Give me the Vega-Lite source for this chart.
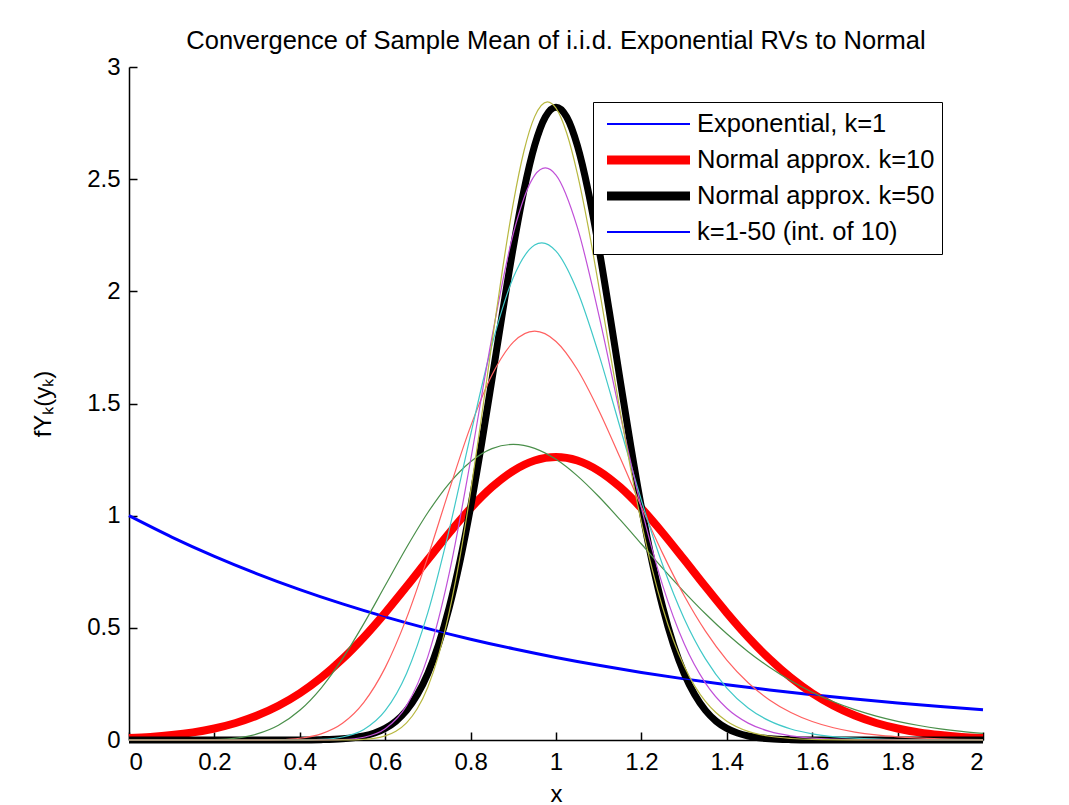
{
  "$schema": "https://vega.github.io/schema/vega-lite/v6.json",
  "width": 854,
  "height": 673,
  "autosize": {"type": "none"},
  "padding": {"left": 129, "top": 67, "right": 86, "bottom": 65},
  "background": "white",
  "config": {
    "font": "Liberation Sans",
    "view": {"stroke": null},
    "axis": {
      "grid": false,
      "domainColor": "black",
      "domainWidth": 1.5,
      "tickColor": "black",
      "tickWidth": 1.5,
      "tickSize": -8,
      "labelColor": "black",
      "labelFontSize": 24,
      "labelFont": "Liberation Sans",
      "titleFont": "Liberation Sans",
      "titleFontSize": 24,
      "titleFontWeight": "normal",
      "titleColor": "black"
    }
  },
  "title": {
    "text": "Convergence of Sample Mean of i.i.d. Exponential RVs to Normal",
    "fontSize": 25.5,
    "fontWeight": "normal",
    "font": "Liberation Sans",
    "color": "black",
    "anchor": "middle",
    "frame": "group",
    "offset": 1
  },
  "data": {
    "values": [
      {"series": "Exponential, k=1", "x": 0, "y": 1},
      {"series": "Exponential, k=1", "x": 0.1, "y": 0.9048},
      {"series": "Exponential, k=1", "x": 0.2, "y": 0.8187},
      {"series": "Exponential, k=1", "x": 0.3, "y": 0.7408},
      {"series": "Exponential, k=1", "x": 0.4, "y": 0.6703},
      {"series": "Exponential, k=1", "x": 0.5, "y": 0.6065},
      {"series": "Exponential, k=1", "x": 0.6, "y": 0.5488},
      {"series": "Exponential, k=1", "x": 0.7, "y": 0.4966},
      {"series": "Exponential, k=1", "x": 0.8, "y": 0.4493},
      {"series": "Exponential, k=1", "x": 0.9, "y": 0.4066},
      {"series": "Exponential, k=1", "x": 1.0, "y": 0.3679},
      {"series": "Exponential, k=1", "x": 1.1, "y": 0.3329},
      {"series": "Exponential, k=1", "x": 1.2, "y": 0.3012},
      {"series": "Exponential, k=1", "x": 1.3, "y": 0.2725},
      {"series": "Exponential, k=1", "x": 1.4, "y": 0.2466},
      {"series": "Exponential, k=1", "x": 1.5, "y": 0.2231},
      {"series": "Exponential, k=1", "x": 1.6, "y": 0.2019},
      {"series": "Exponential, k=1", "x": 1.7, "y": 0.1827},
      {"series": "Exponential, k=1", "x": 1.8, "y": 0.1653},
      {"series": "Exponential, k=1", "x": 1.9, "y": 0.1496},
      {"series": "Exponential, k=1", "x": 2.0, "y": 0.1353},

      {"series": "Normal approx. k=10", "x": 0, "y": 0.0085},
      {"series": "Normal approx. k=10", "x": 0.05, "y": 0.0138},
      {"series": "Normal approx. k=10", "x": 0.1, "y": 0.0220},
      {"series": "Normal approx. k=10", "x": 0.15, "y": 0.0340},
      {"series": "Normal approx. k=10", "x": 0.2, "y": 0.0514},
      {"series": "Normal approx. k=10", "x": 0.25, "y": 0.0758},
      {"series": "Normal approx. k=10", "x": 0.3, "y": 0.1089},
      {"series": "Normal approx. k=10", "x": 0.35, "y": 0.1526},
      {"series": "Normal approx. k=10", "x": 0.4, "y": 0.2085},
      {"series": "Normal approx. k=10", "x": 0.45, "y": 0.2780},
      {"series": "Normal approx. k=10", "x": 0.5, "y": 0.3614},
      {"series": "Normal approx. k=10", "x": 0.55, "y": 0.4583},
      {"series": "Normal approx. k=10", "x": 0.6, "y": 0.5669},
      {"series": "Normal approx. k=10", "x": 0.65, "y": 0.6838},
      {"series": "Normal approx. k=10", "x": 0.7, "y": 0.8044},
      {"series": "Normal approx. k=10", "x": 0.75, "y": 0.9230},
      {"series": "Normal approx. k=10", "x": 0.8, "y": 1.0329},
      {"series": "Normal approx. k=10", "x": 0.85, "y": 1.1273},
      {"series": "Normal approx. k=10", "x": 0.9, "y": 1.2000},
      {"series": "Normal approx. k=10", "x": 0.95, "y": 1.2459},
      {"series": "Normal approx. k=10", "x": 1.0, "y": 1.2616},
      {"series": "Normal approx. k=10", "x": 1.05, "y": 1.2459},
      {"series": "Normal approx. k=10", "x": 1.1, "y": 1.2000},
      {"series": "Normal approx. k=10", "x": 1.15, "y": 1.1273},
      {"series": "Normal approx. k=10", "x": 1.2, "y": 1.0329},
      {"series": "Normal approx. k=10", "x": 1.25, "y": 0.9230},
      {"series": "Normal approx. k=10", "x": 1.3, "y": 0.8044},
      {"series": "Normal approx. k=10", "x": 1.35, "y": 0.6838},
      {"series": "Normal approx. k=10", "x": 1.4, "y": 0.5669},
      {"series": "Normal approx. k=10", "x": 1.45, "y": 0.4583},
      {"series": "Normal approx. k=10", "x": 1.5, "y": 0.3614},
      {"series": "Normal approx. k=10", "x": 1.55, "y": 0.2780},
      {"series": "Normal approx. k=10", "x": 1.6, "y": 0.2085},
      {"series": "Normal approx. k=10", "x": 1.65, "y": 0.1526},
      {"series": "Normal approx. k=10", "x": 1.7, "y": 0.1089},
      {"series": "Normal approx. k=10", "x": 1.75, "y": 0.0758},
      {"series": "Normal approx. k=10", "x": 1.8, "y": 0.0514},
      {"series": "Normal approx. k=10", "x": 1.85, "y": 0.0340},
      {"series": "Normal approx. k=10", "x": 1.9, "y": 0.0220},
      {"series": "Normal approx. k=10", "x": 1.95, "y": 0.0138},
      {"series": "Normal approx. k=10", "x": 2.0, "y": 0.0085},

      {"series": "Normal approx. k=50", "x": 0, "y": 0},
      {"series": "Normal approx. k=50", "x": 0.2, "y": 0},
      {"series": "Normal approx. k=50", "x": 0.3, "y": 0},
      {"series": "Normal approx. k=50", "x": 0.4, "y": 0.0003},
      {"series": "Normal approx. k=50", "x": 0.45, "y": 0.0015},
      {"series": "Normal approx. k=50", "x": 0.5, "y": 0.0054},
      {"series": "Normal approx. k=50", "x": 0.525, "y": 0.0100},
      {"series": "Normal approx. k=50", "x": 0.55, "y": 0.0179},
      {"series": "Normal approx. k=50", "x": 0.575, "y": 0.0309},
      {"series": "Normal approx. k=50", "x": 0.6, "y": 0.0517},
      {"series": "Normal approx. k=50", "x": 0.625, "y": 0.0838},
      {"series": "Normal approx. k=50", "x": 0.65, "y": 0.1319},
      {"series": "Normal approx. k=50", "x": 0.675, "y": 0.2012},
      {"series": "Normal approx. k=50", "x": 0.7, "y": 0.2973},
      {"series": "Normal approx. k=50", "x": 0.725, "y": 0.4259},
      {"series": "Normal approx. k=50", "x": 0.75, "y": 0.5913},
      {"series": "Normal approx. k=50", "x": 0.775, "y": 0.7957},
      {"series": "Normal approx. k=50", "x": 0.8, "y": 1.0378},
      {"series": "Normal approx. k=50", "x": 0.825, "y": 1.3119},
      {"series": "Normal approx. k=50", "x": 0.85, "y": 1.6073},
      {"series": "Normal approx. k=50", "x": 0.875, "y": 1.9087},
      {"series": "Normal approx. k=50", "x": 0.9, "y": 2.1970},
      {"series": "Normal approx. k=50", "x": 0.925, "y": 2.4509},
      {"series": "Normal approx. k=50", "x": 0.95, "y": 2.6500},
      {"series": "Normal approx. k=50", "x": 0.975, "y": 2.7772},
      {"series": "Normal approx. k=50", "x": 1.0, "y": 2.8209},
      {"series": "Normal approx. k=50", "x": 1.025, "y": 2.7772},
      {"series": "Normal approx. k=50", "x": 1.05, "y": 2.6500},
      {"series": "Normal approx. k=50", "x": 1.075, "y": 2.4509},
      {"series": "Normal approx. k=50", "x": 1.1, "y": 2.1970},
      {"series": "Normal approx. k=50", "x": 1.125, "y": 1.9087},
      {"series": "Normal approx. k=50", "x": 1.15, "y": 1.6073},
      {"series": "Normal approx. k=50", "x": 1.175, "y": 1.3119},
      {"series": "Normal approx. k=50", "x": 1.2, "y": 1.0378},
      {"series": "Normal approx. k=50", "x": 1.225, "y": 0.7957},
      {"series": "Normal approx. k=50", "x": 1.25, "y": 0.5913},
      {"series": "Normal approx. k=50", "x": 1.275, "y": 0.4259},
      {"series": "Normal approx. k=50", "x": 1.3, "y": 0.2973},
      {"series": "Normal approx. k=50", "x": 1.325, "y": 0.2012},
      {"series": "Normal approx. k=50", "x": 1.35, "y": 0.1319},
      {"series": "Normal approx. k=50", "x": 1.375, "y": 0.0838},
      {"series": "Normal approx. k=50", "x": 1.4, "y": 0.0517},
      {"series": "Normal approx. k=50", "x": 1.425, "y": 0.0309},
      {"series": "Normal approx. k=50", "x": 1.45, "y": 0.0179},
      {"series": "Normal approx. k=50", "x": 1.475, "y": 0.0100},
      {"series": "Normal approx. k=50", "x": 1.5, "y": 0.0054},
      {"series": "Normal approx. k=50", "x": 1.55, "y": 0.0015},
      {"series": "Normal approx. k=50", "x": 1.6, "y": 0.0003},
      {"series": "Normal approx. k=50", "x": 1.7, "y": 0},
      {"series": "Normal approx. k=50", "x": 1.8, "y": 0},
      {"series": "Normal approx. k=50", "x": 2.0, "y": 0},

      {"series": "k=1-50 (int. of 10)", "x": 0, "y": 1},
      {"series": "k=1-50 (int. of 10)", "x": 0.1, "y": 0.9048},
      {"series": "k=1-50 (int. of 10)", "x": 0.2, "y": 0.8187},
      {"series": "k=1-50 (int. of 10)", "x": 0.3, "y": 0.7408},
      {"series": "k=1-50 (int. of 10)", "x": 0.4, "y": 0.6703},
      {"series": "k=1-50 (int. of 10)", "x": 0.5, "y": 0.6065},
      {"series": "k=1-50 (int. of 10)", "x": 0.6, "y": 0.5488},
      {"series": "k=1-50 (int. of 10)", "x": 0.7, "y": 0.4966},
      {"series": "k=1-50 (int. of 10)", "x": 0.8, "y": 0.4493},
      {"series": "k=1-50 (int. of 10)", "x": 0.9, "y": 0.4066},
      {"series": "k=1-50 (int. of 10)", "x": 1.0, "y": 0.3679},
      {"series": "k=1-50 (int. of 10)", "x": 1.1, "y": 0.3329},
      {"series": "k=1-50 (int. of 10)", "x": 1.2, "y": 0.3012},
      {"series": "k=1-50 (int. of 10)", "x": 1.3, "y": 0.2725},
      {"series": "k=1-50 (int. of 10)", "x": 1.4, "y": 0.2466},
      {"series": "k=1-50 (int. of 10)", "x": 1.5, "y": 0.2231},
      {"series": "k=1-50 (int. of 10)", "x": 1.6, "y": 0.2019},
      {"series": "k=1-50 (int. of 10)", "x": 1.7, "y": 0.1827},
      {"series": "k=1-50 (int. of 10)", "x": 1.8, "y": 0.1653},
      {"series": "k=1-50 (int. of 10)", "x": 1.9, "y": 0.1496},
      {"series": "k=1-50 (int. of 10)", "x": 2.0, "y": 0.1353},

      {"series": "k=10", "x": 0, "y": 0},
      {"series": "k=10", "x": 0.05, "y": 0},
      {"series": "k=10", "x": 0.1, "y": 0},
      {"series": "k=10", "x": 0.15, "y": 0.0002},
      {"series": "k=10", "x": 0.2, "y": 0.0019},
      {"series": "k=10", "x": 0.25, "y": 0.0086},
      {"series": "k=10", "x": 0.3, "y": 0.0270},
      {"series": "k=10", "x": 0.35, "y": 0.0656},
      {"series": "k=10", "x": 0.4, "y": 0.1323},
      {"series": "k=10", "x": 0.45, "y": 0.2317},
      {"series": "k=10", "x": 0.5, "y": 0.3626},
      {"series": "k=10", "x": 0.55, "y": 0.5187},
      {"series": "k=10", "x": 0.6, "y": 0.6884},
      {"series": "k=10", "x": 0.65, "y": 0.8581},
      {"series": "k=10", "x": 0.7, "y": 1.0141},
      {"series": "k=10", "x": 0.75, "y": 1.1444},
      {"series": "k=10", "x": 0.8, "y": 1.2407},
      {"series": "k=10", "x": 0.85, "y": 1.2988},
      {"series": "k=10", "x": 0.9, "y": 1.3176},
      {"series": "k=10", "x": 0.95, "y": 1.3001},
      {"series": "k=10", "x": 1.0, "y": 1.2511},
      {"series": "k=10", "x": 1.05, "y": 1.1773},
      {"series": "k=10", "x": 1.1, "y": 1.0853},
      {"series": "k=10", "x": 1.15, "y": 0.9821},
      {"series": "k=10", "x": 1.2, "y": 0.8737},
      {"series": "k=10", "x": 1.25, "y": 0.7651},
      {"series": "k=10", "x": 1.3, "y": 0.6606},
      {"series": "k=10", "x": 1.35, "y": 0.5627},
      {"series": "k=10", "x": 1.4, "y": 0.4734},
      {"series": "k=10", "x": 1.45, "y": 0.3938},
      {"series": "k=10", "x": 1.5, "y": 0.3241},
      {"series": "k=10", "x": 1.55, "y": 0.2640},
      {"series": "k=10", "x": 1.6, "y": 0.2131},
      {"series": "k=10", "x": 1.65, "y": 0.1705},
      {"series": "k=10", "x": 1.7, "y": 0.1353},
      {"series": "k=10", "x": 1.75, "y": 0.1065},
      {"series": "k=10", "x": 1.8, "y": 0.0832},
      {"series": "k=10", "x": 1.85, "y": 0.0646},
      {"series": "k=10", "x": 1.9, "y": 0.0498},
      {"series": "k=10", "x": 1.95, "y": 0.0382},
      {"series": "k=10", "x": 2.0, "y": 0.0291},

      {"series": "k=20", "x": 0, "y": 0},
      {"series": "k=20", "x": 0.1, "y": 0},
      {"series": "k=20", "x": 0.2, "y": 0},
      {"series": "k=20", "x": 0.3, "y": 0.0002},
      {"series": "k=20", "x": 0.35, "y": 0.0017},
      {"series": "k=20", "x": 0.4, "y": 0.0079},
      {"series": "k=20", "x": 0.45, "y": 0.0274},
      {"series": "k=20", "x": 0.5, "y": 0.0747},
      {"series": "k=20", "x": 0.55, "y": 0.1680},
      {"series": "k=20", "x": 0.6, "y": 0.3227},
      {"series": "k=20", "x": 0.65, "y": 0.5432},
      {"series": "k=20", "x": 0.7, "y": 0.8171},
      {"series": "k=20", "x": 0.75, "y": 1.1149},
      {"series": "k=20", "x": 0.8, "y": 1.3979},
      {"series": "k=20", "x": 0.85, "y": 1.6271},
      {"series": "k=20", "x": 0.9, "y": 1.7734},
      {"series": "k=20", "x": 0.95, "y": 1.8224},
      {"series": "k=20", "x": 1.0, "y": 1.7766},
      {"series": "k=20", "x": 1.05, "y": 1.6516},
      {"series": "k=20", "x": 1.1, "y": 1.4704},
      {"series": "k=20", "x": 1.15, "y": 1.2590},
      {"series": "k=20", "x": 1.2, "y": 1.0396},
      {"series": "k=20", "x": 1.25, "y": 0.8308},
      {"series": "k=20", "x": 1.3, "y": 0.6438},
      {"series": "k=20", "x": 1.35, "y": 0.4851},
      {"series": "k=20", "x": 1.4, "y": 0.3562},
      {"series": "k=20", "x": 1.45, "y": 0.2552},
      {"series": "k=20", "x": 1.5, "y": 0.1788},
      {"series": "k=20", "x": 1.55, "y": 0.1227},
      {"series": "k=20", "x": 1.6, "y": 0.0825},
      {"series": "k=20", "x": 1.65, "y": 0.0545},
      {"series": "k=20", "x": 1.7, "y": 0.0353},
      {"series": "k=20", "x": 1.75, "y": 0.0225},
      {"series": "k=20", "x": 1.8, "y": 0.0142},
      {"series": "k=20", "x": 1.9, "y": 0.0054},
      {"series": "k=20", "x": 2.0, "y": 0.0019},

      {"series": "k=30", "x": 0, "y": 0},
      {"series": "k=30", "x": 0.2, "y": 0},
      {"series": "k=30", "x": 0.3, "y": 0},
      {"series": "k=30", "x": 0.4, "y": 0.0004},
      {"series": "k=30", "x": 0.45, "y": 0.0028},
      {"series": "k=30", "x": 0.5, "y": 0.0133},
      {"series": "k=30", "x": 0.55, "y": 0.0470},
      {"series": "k=30", "x": 0.6, "y": 0.1307},
      {"series": "k=30", "x": 0.65, "y": 0.2969},
      {"series": "k=30", "x": 0.7, "y": 0.5687},
      {"series": "k=30", "x": 0.75, "y": 0.9382},
      {"series": "k=30", "x": 0.8, "y": 1.3604},
      {"series": "k=30", "x": 0.85, "y": 1.7608},
      {"series": "k=30", "x": 0.9, "y": 2.0615},
      {"series": "k=30", "x": 0.95, "y": 2.2065},
      {"series": "k=30", "x": 0.9667, "y": 2.2161},
      {"series": "k=30", "x": 1.0, "y": 2.1791},
      {"series": "k=30", "x": 1.05, "y": 2.0013},
      {"series": "k=30", "x": 1.1, "y": 1.7209},
      {"series": "k=30", "x": 1.15, "y": 1.3940},
      {"series": "k=30", "x": 1.2, "y": 1.0684},
      {"series": "k=30", "x": 1.25, "y": 0.7790},
      {"series": "k=30", "x": 1.3, "y": 0.5420},
      {"series": "k=30", "x": 1.35, "y": 0.3615},
      {"series": "k=30", "x": 1.4, "y": 0.2315},
      {"series": "k=30", "x": 1.45, "y": 0.1429},
      {"series": "k=30", "x": 1.5, "y": 0.0852},
      {"series": "k=30", "x": 1.55, "y": 0.0492},
      {"series": "k=30", "x": 1.6, "y": 0.0276},
      {"series": "k=30", "x": 1.7, "y": 0.0080},
      {"series": "k=30", "x": 1.8, "y": 0.0021},
      {"series": "k=30", "x": 2.0, "y": 0.0001},

      {"series": "k=40", "x": 0, "y": 0},
      {"series": "k=40", "x": 0.2, "y": 0},
      {"series": "k=40", "x": 0.4, "y": 0},
      {"series": "k=40", "x": 0.45, "y": 0.0003},
      {"series": "k=40", "x": 0.5, "y": 0.0022},
      {"series": "k=40", "x": 0.55, "y": 0.0124},
      {"series": "k=40", "x": 0.6, "y": 0.0499},
      {"series": "k=40", "x": 0.65, "y": 0.1530},
      {"series": "k=40", "x": 0.7, "y": 0.3727},
      {"series": "k=40", "x": 0.75, "y": 0.7438},
      {"series": "k=40", "x": 0.8, "y": 1.2470},
      {"series": "k=40", "x": 0.85, "y": 1.7955},
      {"series": "k=40", "x": 0.9, "y": 2.2578},
      {"series": "k=40", "x": 0.95, "y": 2.5169},
      {"series": "k=40", "x": 0.975, "y": 2.5499},
      {"series": "k=40", "x": 1.0, "y": 2.5180},
      {"series": "k=40", "x": 1.05, "y": 2.2848},
      {"series": "k=40", "x": 1.1, "y": 1.8977},
      {"series": "k=40", "x": 1.15, "y": 1.4538},
      {"series": "k=40", "x": 1.2, "y": 1.0347},
      {"series": "k=40", "x": 1.25, "y": 0.6880},
      {"series": "k=40", "x": 1.3, "y": 0.4298},
      {"series": "k=40", "x": 1.35, "y": 0.2535},
      {"series": "k=40", "x": 1.4, "y": 0.1417},
      {"series": "k=40", "x": 1.45, "y": 0.0753},
      {"series": "k=40", "x": 1.5, "y": 0.0383},
      {"series": "k=40", "x": 1.55, "y": 0.0186},
      {"series": "k=40", "x": 1.6, "y": 0.0087},
      {"series": "k=40", "x": 1.7, "y": 0.0017},
      {"series": "k=40", "x": 1.8, "y": 0.0003},
      {"series": "k=40", "x": 2.0, "y": 0},

      {"series": "k=50", "x": 0, "y": 0},
      {"series": "k=50", "x": 0.2, "y": 0},
      {"series": "k=50", "x": 0.4, "y": 0},
      {"series": "k=50", "x": 0.45, "y": 0},
      {"series": "k=50", "x": 0.5, "y": 0.0004},
      {"series": "k=50", "x": 0.55, "y": 0.0032},
      {"series": "k=50", "x": 0.6, "y": 0.0184},
      {"series": "k=50", "x": 0.625, "y": 0.0390},
      {"series": "k=50", "x": 0.65, "y": 0.0764},
      {"series": "k=50", "x": 0.675, "y": 0.1390},
      {"series": "k=50", "x": 0.7, "y": 0.2366},
      {"series": "k=50", "x": 0.725, "y": 0.3783},
      {"series": "k=50", "x": 0.75, "y": 0.5706},
      {"series": "k=50", "x": 0.775, "y": 0.8152},
      {"series": "k=50", "x": 0.8, "y": 1.1067},
      {"series": "k=50", "x": 0.825, "y": 1.4322},
      {"series": "k=50", "x": 0.85, "y": 1.7715},
      {"series": "k=50", "x": 0.875, "y": 2.1009},
      {"series": "k=50", "x": 0.9, "y": 2.3935},
      {"series": "k=50", "x": 0.925, "y": 2.6256},
      {"series": "k=50", "x": 0.95, "y": 2.7788},
      {"series": "k=50", "x": 0.98, "y": 2.8448},
      {"series": "k=50", "x": 1.0, "y": 2.8164},
      {"series": "k=50", "x": 1.025, "y": 2.7057},
      {"series": "k=50", "x": 1.05, "y": 2.5248},
      {"series": "k=50", "x": 1.075, "y": 2.2916},
      {"series": "k=50", "x": 1.1, "y": 2.0252},
      {"series": "k=50", "x": 1.125, "y": 1.7454},
      {"series": "k=50", "x": 1.15, "y": 1.4682},
      {"series": "k=50", "x": 1.175, "y": 1.2069},
      {"series": "k=50", "x": 1.2, "y": 0.9700},
      {"series": "k=50", "x": 1.225, "y": 0.7630},
      {"series": "k=50", "x": 1.25, "y": 0.5884},
      {"series": "k=50", "x": 1.275, "y": 0.4446},
      {"series": "k=50", "x": 1.3, "y": 0.3298},
      {"series": "k=50", "x": 1.325, "y": 0.2403},
      {"series": "k=50", "x": 1.35, "y": 0.1721},
      {"series": "k=50", "x": 1.375, "y": 0.1212},
      {"series": "k=50", "x": 1.4, "y": 0.0840},
      {"series": "k=50", "x": 1.45, "y": 0.0385},
      {"series": "k=50", "x": 1.5, "y": 0.0166},
      {"series": "k=50", "x": 1.55, "y": 0.0068},
      {"series": "k=50", "x": 1.6, "y": 0.0026},
      {"series": "k=50", "x": 1.7, "y": 0.0003},
      {"series": "k=50", "x": 1.8, "y": 0},
      {"series": "k=50", "x": 2.0, "y": 0}
    ]
  },
  "encoding": {
    "x": {
      "field": "x",
      "type": "quantitative",
      "scale": {"domain": [0, 2], "nice": false, "zero": false},
      "axis": {
        "values": [0, 0.2, 0.4, 0.6, 0.8, 1, 1.2, 1.4, 1.6, 1.8, 2],
        "format": "~g",
        "title": "x",
        "labelPadding": 18,
        "titlePadding": 8
      }
    },
    "y": {
      "field": "y",
      "type": "quantitative",
      "scale": {"domain": [0, 3], "nice": false},
      "axis": {
        "values": [0, 0.5, 1, 1.5, 2, 2.5, 3],
        "format": "~g",
        "title": "fYₖ(yₖ)",
        "labelPadding": 17,
        "titlePadding": 31
      }
    },
    "color": {
      "field": "series",
      "type": "nominal",
      "scale": {
        "domain": ["Exponential, k=1", "Normal approx. k=10", "Normal approx. k=50", "k=1-50 (int. of 10)", "k=10", "k=20", "k=30", "k=40", "k=50"],
        "range": ["#0000ff", "#ff0000", "#000000", "#0000ff", "#4a8f4a", "#ff6060", "#40c8c8", "#c050d8", "#b8b840"]
      },
      "legend": {
        "title": null,
        "values": ["Exponential, k=1", "Normal approx. k=10", "Normal approx. k=50", "k=1-50 (int. of 10)"],
        "orient": "none",
        "legendX": 464,
        "legendY": 35,
        "symbolType": "M-0.71875,0H9.65625",
        "symbolSize": 256,
        "clipHeight": 30,
        "labelFontSize": 25.5,
        "labelFont": "Liberation Sans",
        "labelColor": "black",
        "labelOffset": 71.5,
        "labelLimit": 400,
        "padding": 7,
        "rowPadding": 6,
        "strokeColor": "black",
        "fillColor": "white",
        "encode": {
          "symbols": {
            "update": {
              "strokeWidth": {"signal": "datum.value === 'Normal approx. k=10' || datum.value === 'Normal approx. k=50' ? 9 : 2"},
              "fill": {"value": "transparent"}
            }
          }
        }
      }
    }
  },
  "layer": [
    {
      "transform": [{"filter": "datum.series === 'Exponential, k=1'"}],
      "mark": {"type": "line", "strokeWidth": 3, "interpolate": "monotone"}
    },
    {
      "transform": [{"filter": "datum.series === 'Normal approx. k=10'"}],
      "mark": {"type": "line", "strokeWidth": 8, "interpolate": "monotone"}
    },
    {
      "transform": [{"filter": "datum.series === 'Normal approx. k=50'"}],
      "mark": {"type": "line", "strokeWidth": 7, "interpolate": "monotone"}
    },
    {
      "transform": [{"filter": {"field": "series", "oneOf": ["k=1-50 (int. of 10)", "k=10", "k=20", "k=30", "k=40", "k=50"]}}],
      "mark": {"type": "line", "strokeWidth": 1.2, "interpolate": "monotone"}
    }
  ]
}
